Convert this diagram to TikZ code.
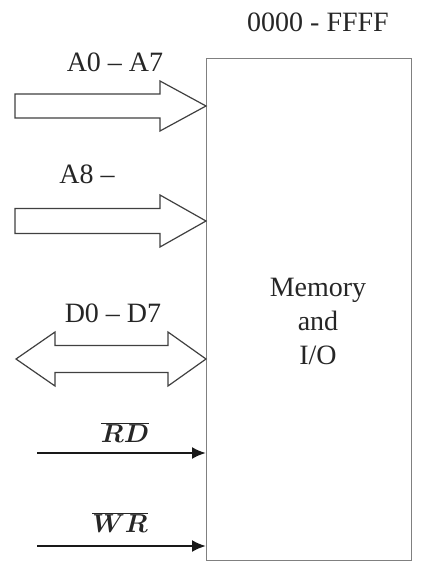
\documentclass[tikz,border=0pt]{standalone}
\usepackage{fix-cm}
\usepackage{fontspec}
\setmainfont{Liberation Serif}
\usetikzlibrary{arrows.meta}

\begin{document}
\begin{tikzpicture}[x=1pt,y=-1pt]
    \tikzstyle{bus} = [draw=black!75, line width=1.2pt, fill=white, line join=miter]
    \tikzstyle{ctrl} = [-{Latex[length=14pt,width=12pt]}, line width=2.2pt, black!90]
    \tikzstyle{lbl} = [inner sep=0pt, anchor=base, text=black!85,
        font=\fontsize{28}{34}\selectfont]

    \useasboundingbox (0,0) rectangle (420,561);

    \node(mem) [draw=black!50, line width=1.2pt, inner sep=0pt,
        minimum width=205pt, minimum height=502pt]
        at (206,58) [anchor=north west] {};
    \node(range) [lbl] at (318,32) {0000 - FFFF};
    \node(memtext) [lbl, align=center, anchor=center] at (318,321)
        {Memory\\and\\I/O};

    % address bus, low byte
    \coordinate (a0tip) at (mem.west |- 0,106);
    \draw[bus] (a0tip) -- ++(-46,-25) -- ++(0,13) -- ++(-145,0) -- ++(0,24)
        -- ++(145,0) -- ++(0,13) -- cycle;
    \node(a0lbl) [lbl] at (115,72) {A0 -- A7};

    % address bus, high byte
    \coordinate (a8tip) at (mem.west |- 0,221);
    \draw[bus] (a8tip) -- ++(-46,-26) -- ++(0,13.5) -- ++(-145,0) -- ++(0,25)
        -- ++(145,0) -- ++(0,13.5) -- cycle;
    \node(a8lbl) [lbl] at (87,183) {A8 --};

    % data bus, both ways
    \coordinate (dtip) at (mem.west |- 0,359);
    \draw[bus] (dtip) -- ++(-38,-27) -- ++(0,13.5) -- ++(-113,0) -- ++(0,-13.5)
        -- ++(-39,27) -- ++(39,27) -- ++(0,-13.5) -- ++(113,0) -- ++(0,13.5)
        -- cycle;
    \node(dlbl) [lbl] at (113,322) {D0 -- D7};

    % control lines
    \coordinate (rdin) at (37,453);
    \draw[ctrl] (rdin) -- (mem.west |- rdin);
    \node(rd) [lbl, font=\fontsize{26}{34}\selectfont\boldmath] at (125,442)
        {$\overline{RD}$};

    \coordinate (wrin) at (37,546);
    \draw[ctrl] (wrin) -- (mem.west |- wrin);
    \node(wr) [lbl, font=\fontsize{26}{34}\selectfont\boldmath] at (120,532)
        {$\overline{WR}$};
\end{tikzpicture}
\end{document}
